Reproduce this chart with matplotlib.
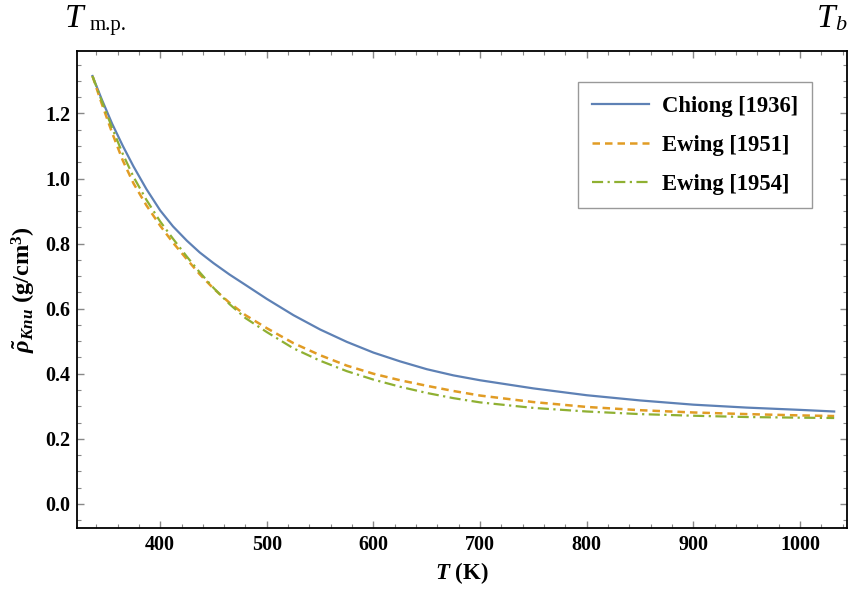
import matplotlib
matplotlib.use("Agg")
import matplotlib.pyplot as plt
from matplotlib.ticker import MultipleLocator

plt.rcParams["font.family"] = "Liberation Serif"
plt.rcParams["font.weight"] = "bold"
plt.rcParams["mathtext.fontset"] = "custom"
plt.rcParams["mathtext.rm"] = "Liberation Serif:bold"
plt.rcParams["mathtext.it"] = "Liberation Serif:italic:bold"
plt.rcParams["mathtext.bf"] = "Liberation Serif:bold"

# temperatures (K) and densities (g/cm^3)
temps = [336.5, 345, 355, 365, 375, 387, 400, 412, 425, 437, 450, 465, 480,
         500, 525, 550, 575, 600, 625, 650, 675, 700, 750, 800, 850, 900,
         950, 1000, 1032]
chiong_1936 = [1.315, 1.245, 1.168, 1.100, 1.037, 0.968, 0.902, 0.853,
               0.809, 0.773, 0.740, 0.705, 0.673, 0.630, 0.580, 0.536,
               0.498, 0.465, 0.438, 0.414, 0.395, 0.380, 0.355, 0.334,
               0.318, 0.305, 0.296, 0.289, 0.284]
ewing_1951 = [1.315, 1.232, 1.140, 1.055, 0.985, 0.918, 0.855, 0.803,
              0.752, 0.706, 0.662, 0.618, 0.580, 0.540, 0.494, 0.457,
              0.425, 0.400, 0.380, 0.363, 0.347, 0.333, 0.313, 0.298,
              0.288, 0.281, 0.276, 0.272, 0.270]
ewing_1954 = [1.315, 1.240, 1.155, 1.075, 1.005, 0.935, 0.868, 0.815,
              0.760, 0.712, 0.664, 0.614, 0.571, 0.528, 0.478, 0.440,
              0.408, 0.382, 0.360, 0.341, 0.325, 0.312, 0.295, 0.284,
              0.276, 0.271, 0.267, 0.265, 0.264]

fig = plt.figure(figsize=(8.49, 5.97), dpi=100)
ax = fig.add_axes([0.0907, 0.1156, 0.9069, 0.799])

ax.plot(temps, chiong_1936, color="#5E81B5", lw=1.6, label="Chiong [1936]")
ax.plot(temps, ewing_1951, color="#E19C24", lw=1.8, ls=(0, (3, 2)),
        label="Ewing [1951]")
ax.plot(temps, ewing_1954, color="#8FB032", lw=1.6, ls=(0, (5, 2, 1, 2)),
        label="Ewing [1954]")

ax.set_xlim(322, 1044)
ax.set_ylim(-0.074, 1.392)
ax.xaxis.set_major_locator(MultipleLocator(100))
ax.xaxis.set_minor_locator(MultipleLocator(20))
ax.yaxis.set_major_locator(MultipleLocator(0.2))
ax.yaxis.set_minor_locator(MultipleLocator(0.05))
ax.tick_params(which="both", direction="in", top=True, right=True,
               color="#888888", labelsize=14.5, pad=5)
ax.tick_params(which="major", length=5, width=1)
ax.tick_params(which="minor", length=3, width=0.8)
ax.set_yticklabels([f"{v:.1f}" for v in ax.get_yticks()])
for s in ax.spines.values():
    s.set_linewidth(1.3)

ax.set_xlabel(r"$T\ \mathbf{(K)}$", fontsize=16.5, labelpad=4)
ax.set_ylabel(r"$\tilde{\rho}_{Knu}\ \mathbf{(g/cm}^{\mathbf{3}}\mathbf{)}$",
              fontsize=17.5, labelpad=5)

leg = ax.legend(loc="upper right", bbox_to_anchor=(0.9545, 0.935),
                borderaxespad=0, fontsize=16.3, fancybox=False,
                edgecolor="#999999", framealpha=1, handlelength=2.55,
                handletextpad=0.57, borderpad=0.6, labelspacing=0.8)
leg.get_frame().set_linewidth(1.0)

# T_m.p. and T_b markers above the frame
fig.text(0.0765, 0.955, "T", fontsize=24, style="italic", fontweight="normal",
         va="baseline", ha="left")
fig.text(0.105, 0.950, "m.p.", fontsize=15, fontweight="normal",
         va="baseline", ha="left")
fig.text(0.984, 0.955, "T", fontsize=24, style="italic", fontweight="normal",
         va="baseline", ha="right")
fig.text(0.997, 0.950, "b", fontsize=16, style="italic", fontweight="normal",
         va="baseline", ha="right")

fig.savefig("out.png", dpi=100)
